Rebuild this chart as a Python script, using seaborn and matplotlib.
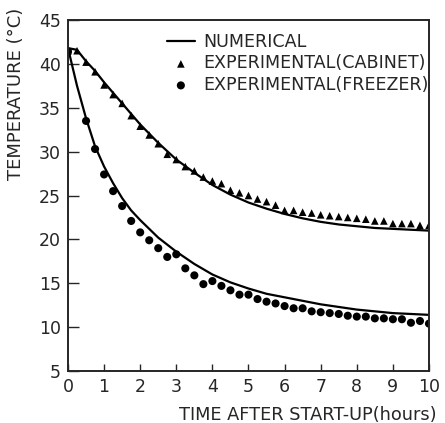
import matplotlib
matplotlib.use("Agg")
import matplotlib.pyplot as plt
import numpy as np
import pandas as pd
import seaborn as sns

# experimental points, read every 0.25 h
hours_cab = np.arange(0, 10.01, 0.25)
temp_cab = [41.5, 41.5, 40.2, 39.1, 37.6, 36.5, 35.5, 34.1, 32.9, 31.9, 30.9,
            29.7, 29.1, 28.3, 27.8, 27.1, 26.65, 26.35, 25.6, 25.3, 25.0,
            24.6, 24.3, 23.9, 23.3, 23.3, 23.1, 23.0, 22.8, 22.7, 22.6,
            22.5, 22.4, 22.3, 22.1, 22.1, 21.8, 21.8, 21.8, 21.6, 21.6]

hours_frz = [0] + list(np.arange(0.5, 10.01, 0.25))
temp_frz = [41.4, 33.5, 30.3, 27.4, 25.5, 23.8, 22.1, 20.8, 19.9, 19.0, 18.0,
            18.3, 16.7, 15.9, 14.9, 15.25, 14.7, 14.2, 13.7, 13.7, 13.2,
            12.9, 12.7, 12.4, 12.15, 12.15, 11.8, 11.7, 11.6, 11.5, 11.3,
            11.2, 11.2, 11.0, 11.0, 10.9, 10.9, 10.5, 10.7, 10.4]

# numerical curves
hours_num = [0, 0.25, 0.5, 0.75, 1.0, 1.25, 1.5, 1.75, 2.0, 2.5, 3.0, 3.5,
             4.0, 4.5, 5.0, 5.5, 6.0, 6.5, 7.0, 7.5, 8.0, 8.5, 9.0, 9.5, 10.0]
num_cab = [41.8, 41.6, 40.3, 39.2, 37.9, 36.7, 35.5, 34.3, 33.1, 31.0, 29.1,
           27.6, 26.2, 25.1, 24.2, 23.5, 22.9, 22.4, 22.0, 21.7, 21.5, 21.3,
           21.2, 21.1, 21.0]
num_frz = [41.8, 37.5, 33.8, 30.6, 28.3, 26.4, 24.7, 23.3, 22.2, 20.2, 18.6,
           17.2, 16.0, 15.1, 14.4, 13.8, 13.4, 13.0, 12.6, 12.3, 12.0, 11.8,
           11.6, 11.5, 11.4]

x_ticks = list(range(0, 11))
y_ticks = [5, 10, 15, 20, 25, 30, 35, 40, 45]

cab = pd.DataFrame({"t": hours_cab, "T": temp_cab})
frz = pd.DataFrame({"t": hours_frz, "T": temp_frz})
num = pd.DataFrame({"t": hours_num, "cab": num_cab, "frz": num_frz})

sns.set_style("ticks")
plt.rcParams["font.family"] = ["DejaVu Sans"]

fig = plt.figure(figsize=(4.45, 4.23), dpi=100)
ax = fig.add_axes([0.1528, 0.1229, 0.8112, 0.8298])

sns.lineplot(data=num, x="t", y="cab", color="black", linewidth=1.6, ax=ax, label="NUMERICAL")
sns.lineplot(data=num, x="t", y="frz", color="black", linewidth=1.6, ax=ax, label="_nolegend_")
sns.scatterplot(data=cab, x="t", y="T", marker="^", s=30, color="black", edgecolor="none",
                ax=ax, label="EXPERIMENTAL(CABINET)")
sns.scatterplot(data=frz, x="t", y="T", marker="o", s=34, color="black", edgecolor="none",
                ax=ax, label="EXPERIMENTAL(FREEZER)")

ax.set_xlim(0, 10)
ax.set_ylim(5, 45)
ax.set_xticks(x_ticks)
ax.set_yticks(y_ticks)
ax.tick_params(axis="x", direction="in", length=5, width=1, pad=5, labelsize=12.5)
ax.tick_params(axis="y", direction="in", length=8, width=1, pad=5, labelsize=12.5)
for s in ax.spines.values():
    s.set_linewidth(1.4)
    s.set_visible(True)

ax.set_xlabel("TIME AFTER START-UP(hours)", fontsize=12.8)
ax.set_ylabel("TEMPERATURE (\u00b0C)", fontsize=13)
ax.xaxis.set_label_coords(0.665, -0.1)
ax.yaxis.set_label_coords(-0.12, 0.79)

ax.legend(loc="upper right", bbox_to_anchor=(1.0, 0.963), frameon=False, fontsize=12.6,
          handlelength=1.6, handletextpad=0.5, labelspacing=0.2, borderaxespad=0,
          borderpad=0)

fig.savefig("out.png", dpi=100)
